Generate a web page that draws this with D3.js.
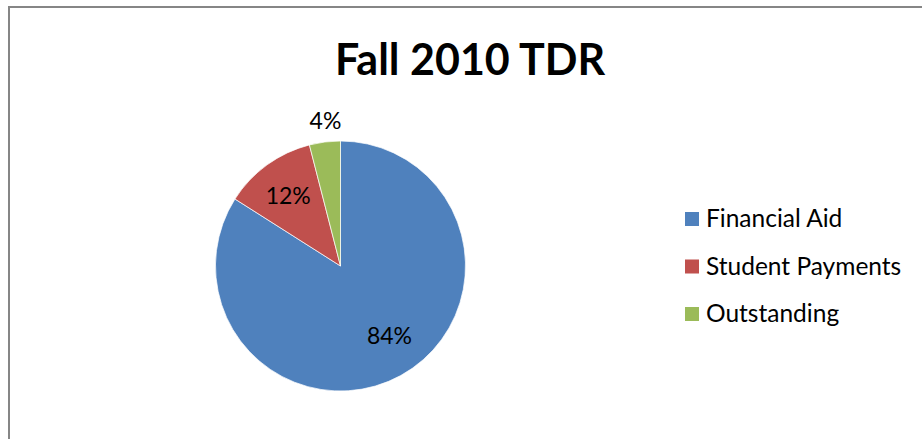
<!DOCTYPE html>
<html>
<head>
<meta charset="utf-8">
<script src="https://cdn.jsdelivr.net/npm/d3@7"></script>
<style>
  html, body { margin: 0; padding: 0; background: #fff; }
  svg { display: block; }
  text { font-family: Lato, "Open Sans", sans-serif; fill: #000; }
</style>
</head>
<body>
<svg id="vis" width="922" height="439"></svg>
<script>
// chart data
const categories = ['Financial Aid', 'Student Payments', 'Outstanding'];
const shares = [84, 12, 4];
const labels = ['84%', '12%', '4%'];
const colors = ['#4F81BD', '#C0504D', '#9BBB59'];
const title = 'Fall 2010 TDR';

const vis = d3.select('#vis');
const width = 922, height = 439;

// chart frame (runs off the right and bottom edges)
vis.append('rect')
  .attr('x', 9)
  .attr('y', 7)
  .attr('width', width)
  .attr('height', height)
  .attr('fill', 'none')
  .attr('stroke', '#868686')
  .attr('stroke-width', 2);

vis.append('text')
  .attr('x', 470)
  .attr('y', 75)
  .attr('text-anchor', 'middle')
  .style('font-size', '43px')
  .style('font-weight', 'bold')
  .text(title);

const cx = 340.5, cy = 266, radius = 125;

const pie = d3.pie().sort(null).value(d => d);
const arcs = pie(shares);
const arc = d3.arc().innerRadius(0).outerRadius(radius);

const pieGroup = vis.append('g').attr('transform', `translate(${cx},${cy})`);

pieGroup.selectAll('path.slice')
  .data(arcs)
  .enter()
  .append('path')
    .classed('slice', true)
    .attr('d', arc)
    .attr('fill', (d, i) => colors[i])
    .attr('stroke', '#fff')
    .attr('stroke-width', 0.7);

// best-fit style label placement: inside for large slices, outside for the small one
const labelRadius = [0.68, 0.70, 1.17];
const labelTurn = [-6.4, -0.7, 1.3]; // degrees off the slice bisector
const labelPos = (d, i) => {
  const r = radius * labelRadius[i];
  const a = (d.startAngle + d.endAngle) / 2 + labelTurn[i] * Math.PI / 180;
  return d3.arc().innerRadius(r).outerRadius(r).centroid({ startAngle: a, endAngle: a });
};

pieGroup.selectAll('text.label')
  .data(arcs)
  .enter()
  .append('text')
    .classed('label', true)
    .attr('x', (d, i) => labelPos(d, i)[0])
    .attr('y', (d, i) => labelPos(d, i)[1])
    .attr('dy', '0.36em')
    .attr('text-anchor', 'middle')
    .style('font-size', '23px')
    .text((d, i) => labels[i]);

// legend
const legendY = d3.scalePoint()
  .domain(categories)
  .range([212, 307]);

const legend = vis.selectAll('g.legend')
  .data(categories)
  .enter()
  .append('g')
    .classed('legend', true)
    .attr('transform', d => `translate(685,${legendY(d)})`);

legend.append('rect')
  .attr('width', 14)
  .attr('height', 14)
  .attr('fill', (d, i) => colors[i]);

legend.append('text')
  .attr('x', 21)
  .attr('y', 15)
  .style('font-size', '24.5px')
  .text(d => d);
</script>
</body>
</html>
